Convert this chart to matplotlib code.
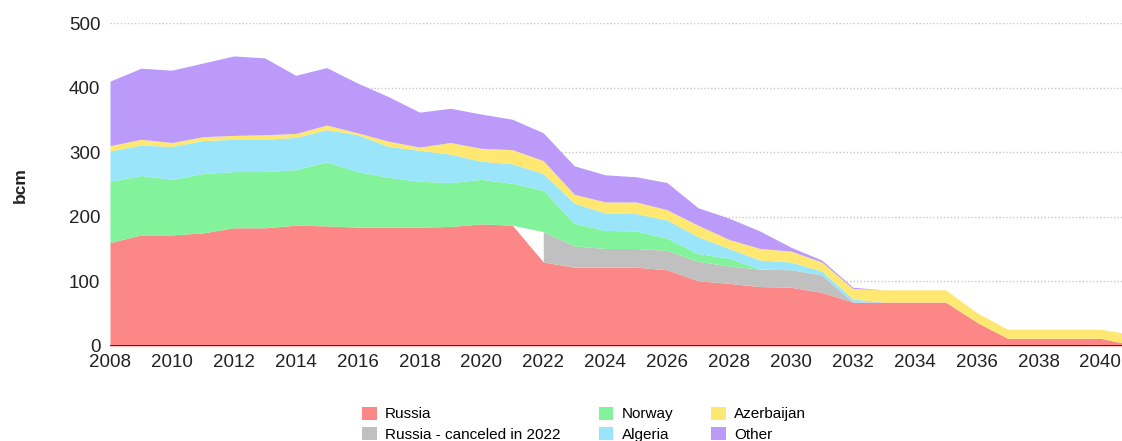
import numpy as np
import matplotlib
matplotlib.use("Agg")
import matplotlib.pyplot as plt
from matplotlib.patches import Patch

plt.rcParams['font.family'] = ['Liberation Sans', 'DejaVu Sans']

years = np.arange(2008, 2042)

# bcm per year, stacked from the bottom
russia = [160, 172, 172, 175, 183, 183, 187, 186, 184, 184, 184, 185, 189, 187,
          130, 122, 122, 122, 118, 101, 97, 92, 91, 83, 68, 68, 68, 68, 37, 12, 12, 12, 12, 2]
russia_canceled = [np.nan] * 14 + [47, 33, 29, 29, 30, 30, 27, 27, 27, 27,
                                   0, 0, 0, 0, 0, 0, 0, 0, 0, 0]
norway = [95, 92, 86, 92, 87, 87, 86, 99, 86, 77, 71, 68, 69, 65,
          64, 35, 28, 27, 19, 12, 12, 0, 0, 0, 0, 0, 0, 0, 0, 0, 0, 0, 0, 0]
algeria = [47, 47, 51, 51, 50, 50, 50, 50, 57, 48, 48, 44, 28, 30,
           26, 31, 27, 27, 28, 26, 15, 14, 12, 6, 5, 0, 0, 0, 0, 0, 0, 0, 0, 0]
azerbaijan = [8, 9, 6, 6, 6, 7, 6, 7, 3, 8, 5, 18, 20, 22,
              20, 14, 17, 18, 16, 18, 14, 18, 17, 14, 16, 19, 19, 19, 15, 14, 14, 14, 14, 16]
other = [100, 110, 112, 114, 123, 119, 90, 89, 77, 69, 54, 53, 53, 47,
         43, 44, 42, 39, 42, 27, 33, 27, 6, 3, 2, 0, 0, 0, 0, 0, 0, 0, 0, 0]

labels = ["Russia", "Russia - canceled in 2022", "Norway", "Algeria", "Azerbaijan", "Other"]
colors = ["#FC8787", "#C0C0C0", "#82F39B", "#9BE5FB", "#FEE872", "#BC9AFA"]

fig = plt.figure(figsize=(11.22, 4.41), dpi=100)
ax = fig.add_axes([110 / 1122, 95 / 441, 1012 / 1122, 323 / 441])

series = [russia, russia_canceled, norway, algeria, azerbaijan, other]
base = np.zeros(len(years))
for i, s in enumerate(series):
    vals = np.array(s, dtype=float)
    top = base + np.nan_to_num(vals)
    if i == 1:
        # canceled volumes only start in 2022, leaving a gap before it
        mask = ~np.isnan(vals)
        ax.fill_between(years, base, top, where=mask, color=colors[i], lw=0, zorder=2)
    else:
        ax.fill_between(years, base, top, color=colors[i], lw=0, zorder=2)
    base = top

ax.set_xlim(2008, 2040.7)
ax.set_ylim(0, 500)
ax.set_xticks(np.arange(2008, 2041, 2))
ax.set_yticks(np.arange(0, 501, 100))
ax.tick_params(axis='both', length=0, labelsize=13.5, colors='#222222')
ax.tick_params(axis='x', pad=6)
ax.tick_params(axis='y', pad=7)

for v in range(100, 501, 100):
    ax.axhline(v, color='#C8C8C8', lw=1, ls=(0, (1, 1.5)), zorder=1)
ax.axhline(0, color='#222222', lw=2, zorder=3)

for sp in ax.spines.values():
    sp.set_visible(False)

fig.text(20 / 1122, 1 - 185 / 441, "bcm", rotation=90, ha='center', va='center',
         fontsize=12.5, fontweight='bold', color='#222222')

handles = [Patch(facecolor=c, edgecolor='none') for c in colors]
fig.legend(handles, labels, ncol=3, loc='upper left', bbox_to_anchor=(362 / 1122, 0.078),
           frameon=False, fontsize=11, borderpad=0, borderaxespad=0,
           handlelength=0.95, handleheight=0.95, handletextpad=0.55,
           columnspacing=2.5, labelspacing=0.35)

fig.savefig("out.png", dpi=100)
